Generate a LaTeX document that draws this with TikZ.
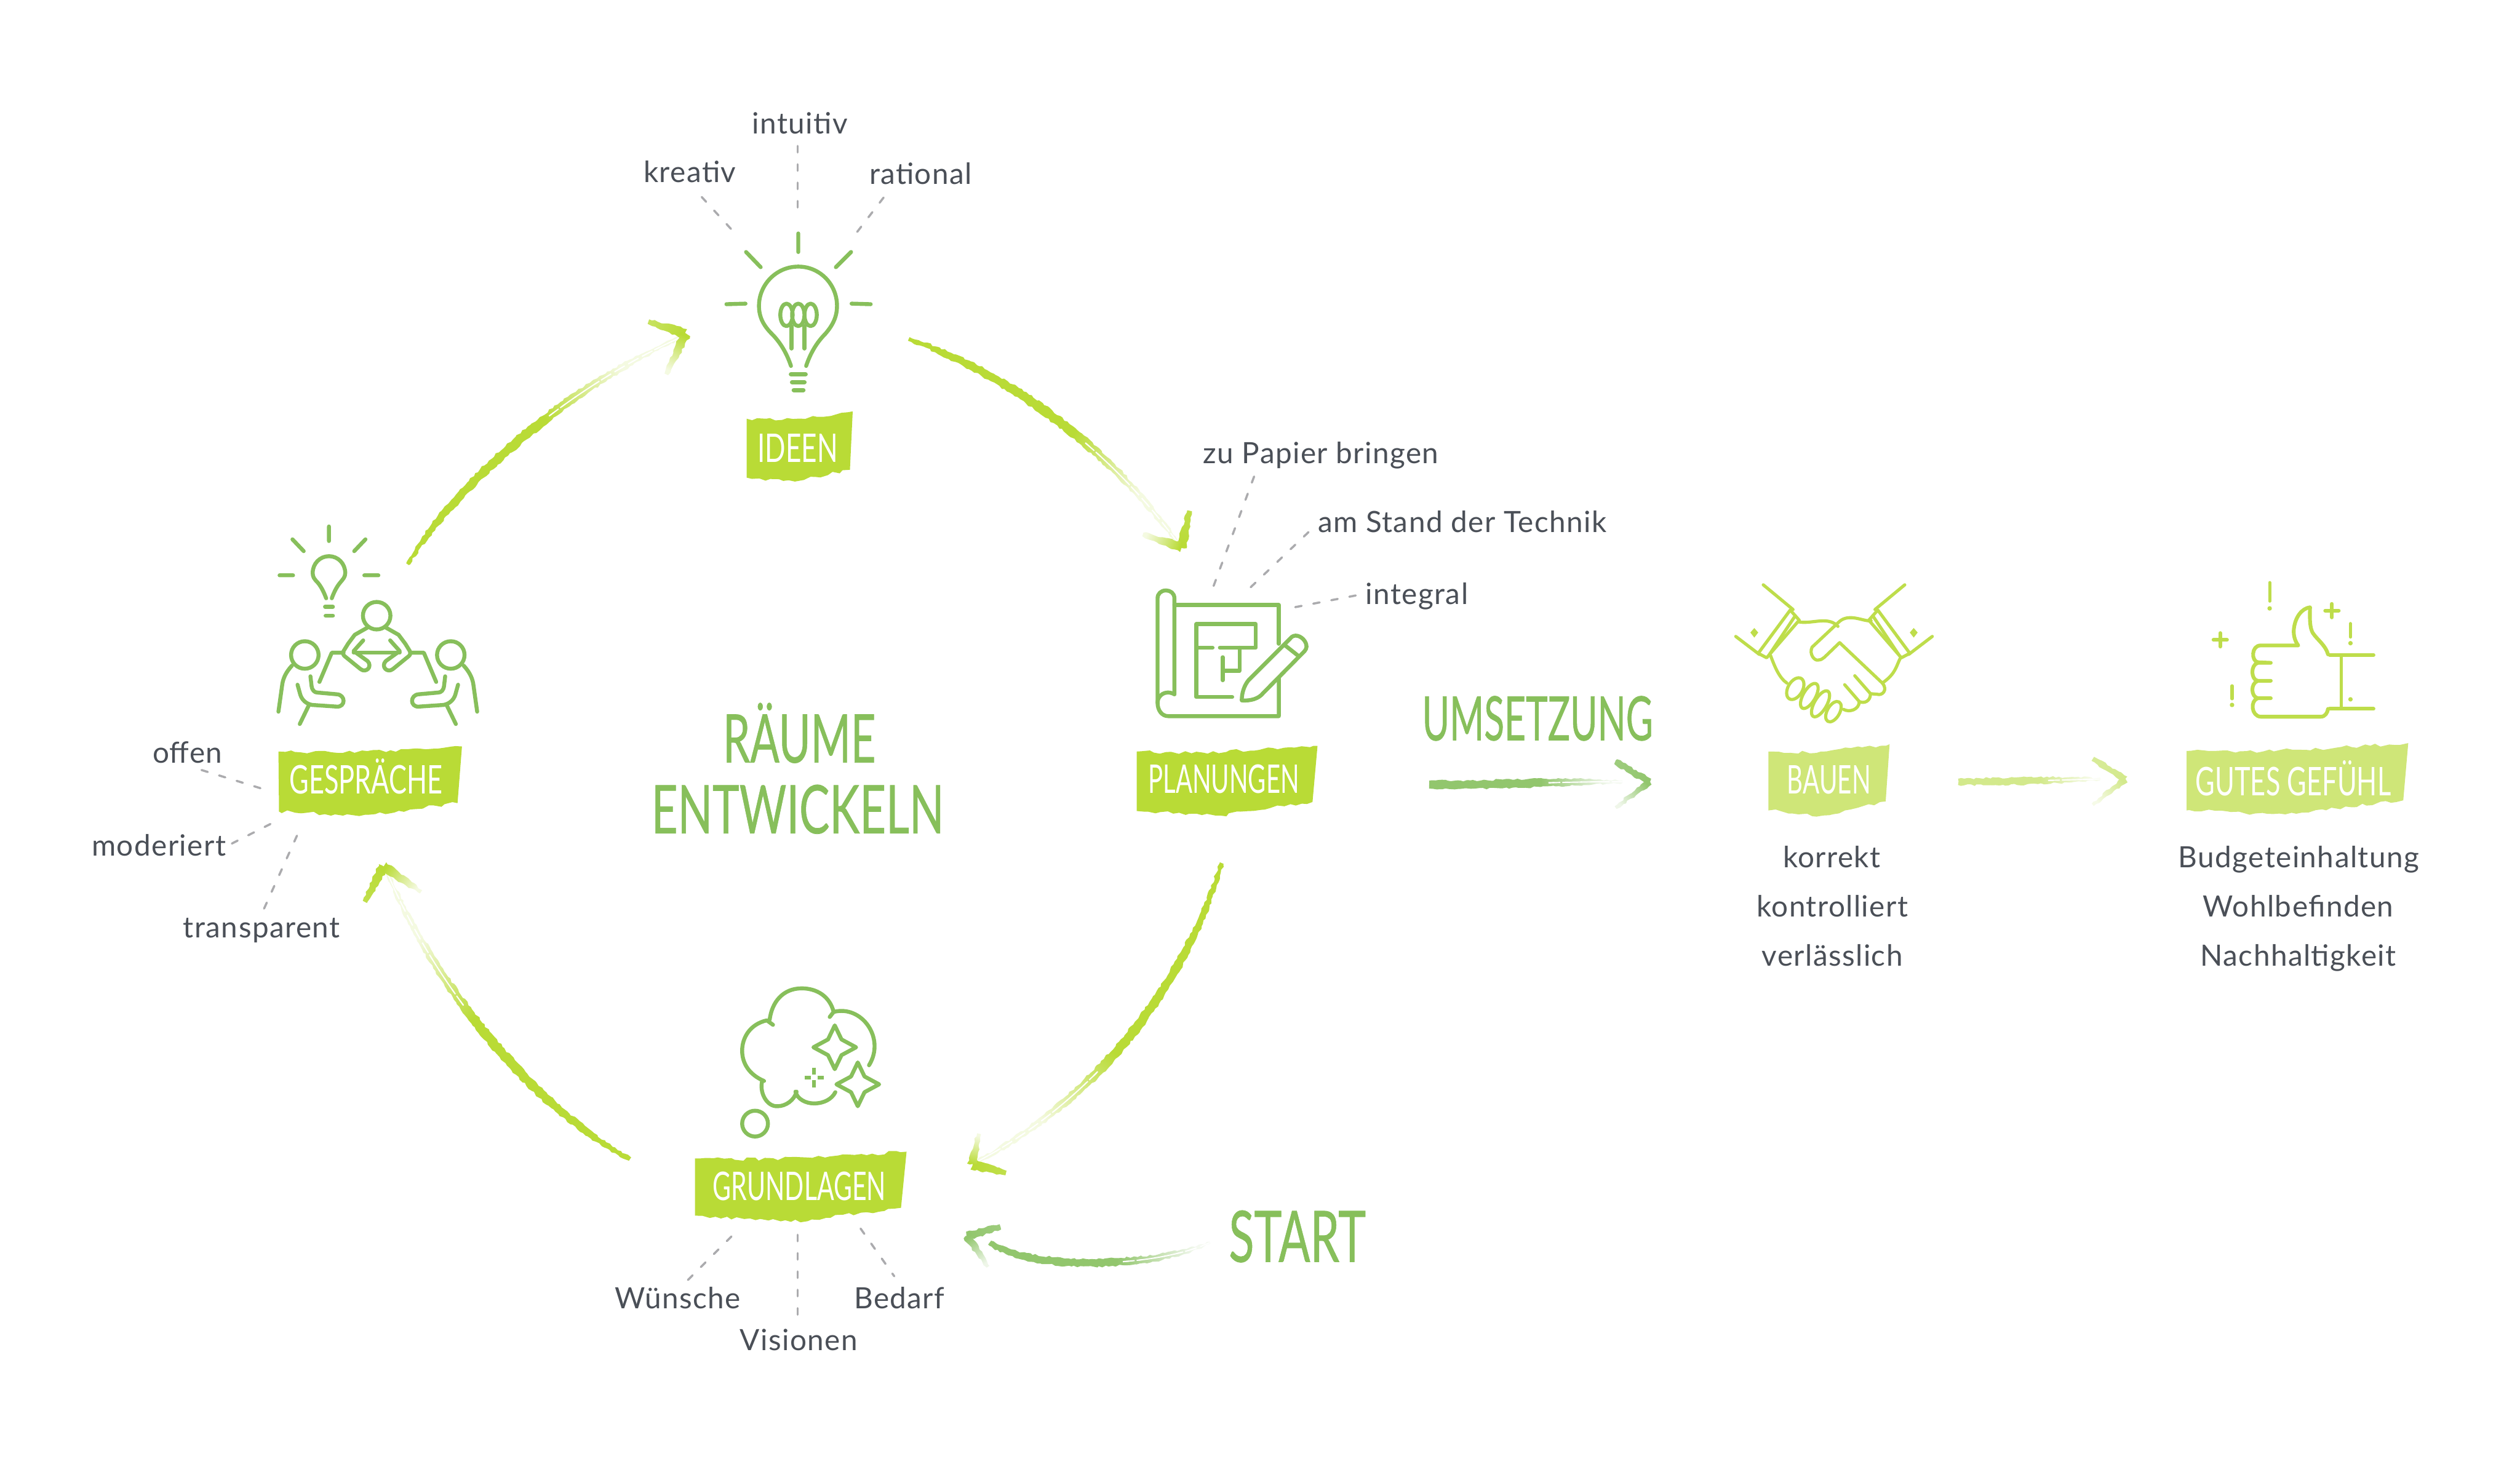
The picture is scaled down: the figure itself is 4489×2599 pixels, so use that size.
\documentclass[tikz,border=0pt]{standalone}
\usepackage{fontspec}
\usepackage{graphicx}
\usetikzlibrary{calc,decorations.pathmorphing}
\setmainfont{Lato}
\newfontfamily\bodyfont[LetterSpace=3]{Lato}
\newfontfamily\handfont{Lato}
\newfontfamily\handmid[FakeBold=0.7]{Lato}
\newlength{\pxu}\setlength{\pxu}{0.01cm}
\definecolor{ribbonA}{HTML}{B9DB36}
\definecolor{ribbonB}{HTML}{CFE678}
\definecolor{iconA}{HTML}{87BF5B}
\definecolor{iconB}{HTML}{BEDD4B}
\definecolor{chalkA}{HTML}{B9DB36}
\definecolor{chalkB}{HTML}{92C66D}
\definecolor{chalkC}{HTML}{D3E98C}
\definecolor{labelgrey}{HTML}{4A4F57}
\definecolor{leadgrey}{HTML}{ABABAE}
\pgfdeclareverticalshading{fadeA}{100bp}{color(0bp)=(chalkA!15); color(28bp)=(chalkA!15); color(46bp)=(chalkA); color(100bp)=(chalkA)}
\pgfdeclareverticalshading{fadeB}{100bp}{color(0bp)=(chalkB!10); color(28bp)=(chalkB!10); color(46bp)=(chalkB); color(100bp)=(chalkB)}
\pgfdeclareverticalshading{fadeC}{100bp}{color(0bp)=(chalkC!20); color(28bp)=(chalkC!20); color(46bp)=(chalkC); color(100bp)=(chalkC)}
\tikzset{
 lbl/.style={font=\bodyfont\fontsize{14.85pt}{18pt}\selectfont,text=labelgrey,inner sep=0pt,anchor=base,yshift=-.8pt},
 leaderline/.style={draw=leadgrey,line width=1.1pt,line cap=round,dash pattern=on 3.3pt off 6pt},
 icon/.style={draw=iconA,line width=2pt,line cap=round,line join=round},
 iconthin/.style={draw=iconB,line width=1.6pt,line cap=round,line join=round},
 chalkedge/.style={decorate,decoration={random steps,segment length=1.6pt,amplitude=.5pt}},
 ribedge/.style={decoration={random steps,segment length=3pt,amplitude=.9pt}},
 streak/.style={draw=white,line width=.6pt,line cap=butt},
 hand/.style={inner sep=0pt,anchor=center}
}
\newcommand\handtext[3]{{\fontsize{#2pt}{#2pt}\handfont\resizebox{#1\pxu}{\height}{#3}}}
\newcommand\handbold[3]{{\fontsize{#2pt}{#2pt}\handmid\resizebox{#1\pxu}{\height}{#3}}}
\newcommand\leader[3]{\coordinate (#1a) at (#2); \coordinate (#1b) at (#3); \draw[leaderline] (#1a) -- (#1b);}
% shading name, A, c1, c2, B, half widths A, controls, B
\newcommand\chalkcurve[8]{%
 \pgfpointdiff{\pgfpointanchor{#5}{center}}{\pgfpointanchor{#2}{center}}\pgfgetlastxy\chdx\chdy
 \pgfmathsetmacro\chang{atan2(\chdy,\chdx)-90}%
 \shade[chalkedge,shading=#1,shading angle=\chang]
  ($(#2)!#6!90:(#3)$) .. controls ($(#3)!#7!90:(#4)$) and ($(#4)!#7!90:(#5)$) .. ($(#5)!#8!-90:(#4)$)
  -- ($(#5)!#8!90:(#4)$) .. controls ($(#4)!#7!-90:(#5)$) and ($(#3)!#7!-90:(#4)$) .. ($(#2)!#6!-90:(#3)$) -- cycle;
 \coordinate (chp) at ($(#2)!.62!(#3)$); \coordinate (chq) at ($(#3)!.62!(#4)$); \coordinate (chr) at ($(#4)!.62!(#5)$);
 \coordinate (chs) at ($(chp)!.62!(chq)$); \coordinate (cht) at ($(chq)!.62!(chr)$); \coordinate (chu) at ($(chs)!.62!(cht)$);
 \draw[streak,dash pattern=on 6pt off 2pt,shift={(1.5,-1.5)}] (chu) .. controls (cht) and (chr) .. (#5);
 \draw[streak,dash pattern=on 3pt off 4pt,shift={(-2,2)}] (chu) .. controls (cht) and (chr) .. (#5);
}
\newcommand\chalkarm[6]{%
 \pgfpointdiff{\pgfpointanchor{#4}{center}}{\pgfpointanchor{#3}{center}}\pgfgetlastxy\chdx\chdy
 \pgfmathsetmacro\chang{atan2(\chdy,\chdx)-90}%
 \shade[chalkedge,top color=#1,bottom color=#2,shading angle=\chang]
  ($(#3)!#5!90:(#4)$) -- ($(#4)!#6!-90:(#3)$) -- ($(#4)!#6!90:(#3)$) -- ($(#3)!#5!-90:(#4)$) -- cycle;}
\newcommand\ribbonshape[6]{%
 \fill[#1] decorate[ribedge]{(#2) .. controls ($(#2)!.4!(#3)+(0,9)$) and ($(#2)!.7!(#3)+(0,3)$) .. (#3)} -- (#4)
   decorate[ribedge]{-- (#5) -- (#6)} -- cycle;}
\begin{document}
\begin{tikzpicture}[x=0.01cm,y=-0.01cm]
\pgfmathsetseed{27}
\useasboundingbox (0,0) rectangle (4489,2599);
\fill[white] (0,0) rectangle (4489,2599);

% ---------- ribbons ----------
\ribbonshape{ribbonA}{1330,746}{1519,733}{1514,837}{1416,858}{1330,851}
\ribbonshape{ribbonA}{496,1339}{823,1330}{815,1431}{640,1454}{497,1446}
\ribbonshape{ribbonA}{2025,1339}{2347,1329}{2338,1429}{2173,1453}{2025,1445}
\ribbonshape{ribbonA}{1238,2064}{1615,2052}{1605,2152}{1409,2177}{1238,2166}
\ribbonshape{ribbonB}{3150,1339}{3366,1326}{3359,1428}{3248,1453}{3150,1444}
\ribbonshape{ribbonB}{3895,1338}{4290,1324}{4281,1426}{4071,1451}{3895,1444}
\node[hand,text=white] (ideen) at (1421,798) {\handtext{143}{20}{IDEEN}};
\node[hand,text=white] (gespraeche) at (652,1383) {\handtext{273}{20}{GESPRÄCHE}};
\node[hand,text=white] (planungen) at (2180,1388) {\handtext{269}{20}{PLANUNGEN}};
\node[hand,text=white] (grundlagen) at (1424,2114) {\handtext{308}{20}{GRUNDLAGEN}};
\node[hand,text=white] (bauen) at (3258,1389) {\handtext{149}{20}{BAUEN}};
\node[hand,text=white] (gefuehl) at (4085,1387) {\handtext{348}{20}{GUTES GEFÜHL}};

% ---------- big headings ----------
\node[hand,text=iconA] (raeume) at (1424,1306) {\handbold{272}{34}{RÄUME}};
\node[hand,text=iconA] (entwickeln) at (1421,1442) {\handbold{521}{34}{ENTWICKELN}};
\node[hand,text=iconA] (umsetzung) at (2739,1280) {\handbold{411}{31}{UMSETZUNG}};
\node[hand,text=iconA] (start) at (2311,2203) {\handbold{244}{36}{START}};

% ---------- labels ----------
\node[lbl] (kreativ) at (1229,322) {kreativ};
\node[lbl] (intuitiv) at (1425,236) {intuitiv};
\node[lbl] (rational) at (1640,325) {rational};
\node[lbl] (papier) at (2353,823) {zu Papier bringen};
\node[lbl] (stand) at (2605,946) {am Stand der Technik};
\node[lbl] (integral) at (2524,1074) {integral};
\node[lbl] (offen) at (334,1357) {offen};
\node[lbl] (moderiert) at (283,1522) {moderiert};
\node[lbl] (transparent) at (466,1668) {transparent};
\node[lbl] (wuensche) at (1207,2329) {Wünsche};
\node[lbl] (bedarf) at (1602,2329) {Bedarf};
\node[lbl] (visionen) at (1423,2403) {Visionen};
\node[lbl] (korrekt) at (3263,1543) {korrekt};
\node[lbl] (kontrolliert) at (3264,1631) {kontrolliert};
\node[lbl] (verlaesslich) at (3264,1718) {verlässlich};
\node[lbl] (budget) at (4095,1543) {Budgeteinhaltung};
\node[lbl] (wohl) at (4094,1631) {Wohlbefinden};
\node[lbl] (nachhalt) at (4094,1718) {Nachhaltigkeit};

% ---------- dashed leaders ----------
\leader{l1}{1421,260}{1421,375}
\leader{l2}{1250,351}{1305,411}
\leader{l3}{1574,352}{1524,417}
\leader{l4}{359,1372}{466,1405}
\leader{l5}{413,1503}{484,1467}
\leader{l6}{529,1489}{469,1622}
\leader{l7}{2234,849}{2160,1049}
\leader{l8}{2331,948}{2224,1050}
\leader{l9}{2415,1061}{2306,1082}
\leader{l10}{1303,2203}{1222,2284}
\leader{l11}{1421,2200}{1421,2350}
\leader{l12}{1533,2189}{1593,2274}

% ---------- chalk arrows of the ring ----------
\coordinate (gi0) at (726,1005); \coordinate (gi1) at (800,880); \coordinate (gi2) at (990,700); \coordinate (gi3) at (1215,600);
\coordinate (gih) at (1221,595); \coordinate (gia) at (1155,573); \coordinate (gib) at (1187,667);
\chalkcurve{fadeA}{gi0}{gi1}{gi2}{gi3}{.8pt}{3pt}{.8pt}
\chalkarm{chalkA}{chalkA!80}{gih}{gia}{2.6pt}{1.2pt}
\chalkarm{chalkA}{chalkA!15}{gih}{gib}{2.6pt}{1pt}

\coordinate (ip0) at (1619,604); \coordinate (ip1) at (1790,665); \coordinate (ip2) at (1970,790); \coordinate (ip3) at (2100,970);
\coordinate (iph) at (2105,975); \coordinate (ipa) at (2119,910); \coordinate (ipb) at (2036,952);
\chalkcurve{fadeA}{ip0}{ip1}{ip2}{ip3}{1pt}{3pt}{.8pt}
\chalkarm{chalkA}{chalkA!90}{iph}{ipa}{2.6pt}{1.2pt}
\chalkarm{chalkA}{chalkA!15}{iph}{ipb}{2.6pt}{1pt}

\coordinate (pg0) at (2176,1538); \coordinate (pg1) at (2110,1760); \coordinate (pg2) at (1950,1960); \coordinate (pg3) at (1740,2070);
\coordinate (pgh) at (1731,2075); \coordinate (pga) at (1792,2090); \coordinate (pgb) at (1744,2020);
\chalkcurve{fadeA}{pg0}{pg1}{pg2}{pg3}{1pt}{3pt}{.8pt}
\chalkarm{chalkA}{chalkA!90}{pgh}{pga}{2.6pt}{1.2pt}
\chalkarm{chalkA}{chalkA!15}{pgh}{pgb}{2.4pt}{1pt}

\coordinate (gr0) at (1122,2065); \coordinate (gr1) at (960,1980); \coordinate (gr2) at (780,1770); \coordinate (gr3) at (690,1555);
\coordinate (grh) at (683,1544); \coordinate (gra) at (650,1607); \coordinate (grb) at (750,1589);
\chalkcurve{fadeA}{gr0}{gr1}{gr2}{gr3}{1pt}{3pt}{.8pt}
\chalkarm{chalkA}{chalkA!90}{grh}{gra}{2.6pt}{1.2pt}
\chalkarm{chalkA}{chalkA!15}{grh}{grb}{2.6pt}{1pt}

% ---------- other chalk arrows ----------
\coordinate (st0) at (1763,2214); \coordinate (st1) at (1830,2262); \coordinate (st2) at (2050,2262); \coordinate (st3) at (2155,2214);
\coordinate (sth) at (1723,2202); \coordinate (sta) at (1782,2186); \coordinate (stb) at (1760,2257);
\chalkcurve{fadeB}{st0}{st1}{st2}{st3}{1.2pt}{2.6pt}{.5pt}
\chalkarm{chalkB}{chalkB!90}{sth}{sta}{2.2pt}{1.4pt}
\chalkarm{chalkB}{chalkB!15}{sth}{stb}{2.2pt}{.8pt}

\coordinate (um0) at (2546,1398); \coordinate (um1) at (2650,1400); \coordinate (um2) at (2780,1392); \coordinate (um3) at (2890,1393);
\coordinate (umh) at (2938,1393); \coordinate (uma) at (2878,1357); \coordinate (umb) at (2878,1439);
\chalkcurve{fadeB}{um0}{um1}{um2}{um3}{2pt}{2.4pt}{.6pt}
\chalkarm{chalkB}{chalkB!90}{umh}{uma}{1.8pt}{1.4pt}
\chalkarm{chalkB}{chalkB!15}{umh}{umb}{1.8pt}{.8pt}

\coordinate (ba0) at (3488,1393); \coordinate (ba1) at (3580,1393); \coordinate (ba2) at (3660,1390); \coordinate (ba3) at (3741,1388);
\coordinate (bah) at (3786,1389); \coordinate (baa) at (3728,1352); \coordinate (bab) at (3728,1434);
\chalkcurve{fadeC}{ba0}{ba1}{ba2}{ba3}{1.6pt}{2pt}{.6pt}
\chalkarm{chalkC}{chalkC!90}{bah}{baa}{1.8pt}{1.2pt}
\chalkarm{chalkC}{chalkC!20}{bah}{bab}{1.8pt}{.8pt}

% ---------- bulb icon ----------
\draw[icon] (1422,416)--(1422,449) (1329,449)--(1355,476) (1516,449)--(1489,476) (1294,542)--(1328,541) (1517,541)--(1551,542);
\draw[icon] (1409,652) .. controls (1400,625) and (1387,607) .. (1375,595) .. controls (1360,580) and (1352,565) .. (1352,545)
 .. controls (1352,507) and (1383,475) .. (1422,475) .. controls (1461,475) and (1491,507) .. (1491,545)
 .. controls (1491,565) and (1483,580) .. (1470,595) .. controls (1458,607) and (1445,625) .. (1436,652);
\draw[icon] (1401,561) ellipse [x radius=11,y radius=20] (1422,561) ellipse [x radius=11,y radius=20] (1444,561) ellipse [x radius=11,y radius=20];
\draw[icon] (1410,581)--(1410,621) (1433,581)--(1433,621);
\draw[icon,line width=2.2pt] (1409,667)--(1435,667) (1411,681)--(1433,681) (1414,695)--(1431,695);

% ---------- meeting icon ----------
\draw[icon] (586,938)--(586,964) (521,961)--(541,982) (651,961)--(631,982) (498,1025)--(522,1025) (649,1025)--(674,1025);
\draw[icon] (581,1066) .. controls (577,1055) and (572,1045) .. (566,1038) .. controls (560,1032) and (557,1028) .. (557,1021)
 .. controls (557,1004) and (570,991) .. (586,991) .. controls (602,991) and (615,1004) .. (615,1021)
 .. controls (615,1028) and (611,1032) .. (606,1038) .. controls (600,1045) and (595,1055) .. (591,1066);
\draw[icon] (579,1081)--(593,1081) (580,1097)--(593,1097);
\draw[icon] (671,1097) circle [radius=24.5];
\draw[icon] (630,1163)--(712,1163);
\foreach \mx/\ms in {0/1,1342/-1}{
\begin{scope}[shift={(\mx,0)},xscale=\ms]
\draw[icon] (655,1118)--(632,1131)--(620,1147)--(612,1160) .. controls (610,1165) and (612,1168) .. (615,1170) -- (642,1192)
 .. controls (652,1200) and (664,1188) .. (655,1178) -- (630,1160) -- (647,1141);
\end{scope}}
\foreach \mx/\ms in {0/1,1346/-1}{
\begin{scope}[shift={(\mx,0)},xscale=\ms]
\draw[icon] (543,1167) circle [radius=24.5];
\draw[icon] (520,1186) .. controls (510,1197) and (505,1207) .. (503,1218) -- (496,1268);
\draw[icon] (553,1205) -- (555,1222) .. controls (556,1230) and (560,1234) .. (566,1234) -- (600,1237)
 .. controls (616,1238) and (616,1260) .. (600,1259) -- (556,1256) .. controls (545,1254) and (538,1247) .. (535,1238) -- (530,1220);
\draw[icon] (550,1257)--(534,1290);
\draw[icon] (612,1163)--(591,1163)--(569,1215);
\end{scope}}

% ---------- plan icon ----------
\draw[icon] (2092,1237) -- (2092,1066) .. controls (2092,1057) and (2085,1052) .. (2077,1052) .. controls (2068,1052) and (2062,1058) .. (2062,1066)
 -- (2062,1252) .. controls (2062,1266) and (2070,1276) .. (2081,1276) -- (2278,1276) -- (2278,1208);
\draw[icon] (2062,1252) .. controls (2062,1240) and (2075,1228) .. (2092,1237);
\draw[icon] (2278,1147) -- (2278,1078) -- (2092,1078);
\draw[icon] (2195,1242) -- (2131,1242) -- (2131,1112) -- (2237,1112) -- (2237,1154) -- (2173,1154);
\draw[icon] (2131,1154)--(2160,1154);
\draw[icon] (2208,1154) -- (2208,1195) -- (2178,1195);
\draw[icon] (2178,1171)--(2178,1212);
\draw[icon] (2212,1248) .. controls (2212,1235) and (2216,1222) .. (2224,1212) -- (2298,1138) .. controls (2305,1128) and (2318,1133) .. (2324,1142)
 .. controls (2329,1150) and (2328,1155) .. (2324,1160) -- (2250,1235) .. controls (2242,1245) and (2228,1249) .. (2212,1248) -- cycle;
\draw[icon] (2288,1149)--(2312,1168);

% ---------- cloud icon ----------
\draw[icon] (1371,1817) .. controls (1375,1785) and (1395,1761) .. (1428,1761) .. controls (1455,1761) and (1478,1775) .. (1485,1803) -- (1478,1812);
\draw[icon] (1485,1803) .. controls (1535,1790) and (1578,1850) .. (1548,1898);
\draw[icon] (1377,1826) -- (1366,1818) .. controls (1335,1825) and (1322,1850) .. (1322,1872) .. controls (1322,1895) and (1335,1915) .. (1361,1926);
\draw[icon] (1358,1925) .. controls (1352,1945) and (1365,1972) .. (1385,1971) .. controls (1400,1971) and (1415,1960) .. (1419,1945);
\draw[icon] (1417,1945) .. controls (1420,1958) and (1435,1966) .. (1450,1966) .. controls (1468,1966) and (1482,1958) .. (1488,1946);
\draw[icon] (1345,2002) circle [radius=23];
\foreach \cx/\cy in {1487/1866,1528/1932}{
\draw[icon,shift={(\cx,\cy)}] (0,-39)--(12,-14)--(38,0)--(12,14)--(0,39)--(-12,14)--(-38,0)--(-12,-14)--cycle;}
\draw[icon,line cap=butt] (1450,1902)--(1450,1915) (1450,1925)--(1450,1938) (1433,1920)--(1444,1920) (1456,1920)--(1468,1920);

% ---------- handshake icon ----------
\foreach \mx/\ms in {0/1,6534/-1}{
\begin{scope}[shift={(\mx,0)},xscale=\ms]
\draw[iconthin] (3141,1042)--(3194,1086) (3092,1134)--(3134,1166);
\draw[iconthin] (3189,1087)--(3132,1164)--(3147,1172)--(3205,1105)--cycle;
\draw[iconthin] (3198,1097)--(3152,1166);
\fill[iconB] (3125,1119)--(3132,1127)--(3125,1136)--(3118,1127)--cycle;
\end{scope}}
\draw[iconthin] (3204,1108) .. controls (3225,1112) and (3250,1100) .. (3268,1111) -- (3274,1116);
\draw[iconthin] (3333,1106) .. controls (3320,1108) and (3295,1092) .. (3277,1107) -- (3228,1153) .. controls (3222,1165) and (3232,1178) .. (3239,1176)
 .. controls (3245,1176) and (3248,1172) .. (3250,1171) -- (3277,1145) -- (3353,1217);
\draw[iconthin] (3154,1168) .. controls (3162,1190) and (3170,1208) .. (3183,1217);
\draw[iconthin] (3386,1171) .. controls (3378,1185) and (3378,1200) .. (3353,1217) .. controls (3364,1230) and (3352,1240) .. (3344,1237) -- (3332,1236) -- (3304,1204);
\draw[iconthin] (3332,1236) .. controls (3332,1250) and (3320,1254) .. (3312,1250) -- (3286,1220);
\draw[iconthin] (3312,1250) .. controls (3312,1264) and (3295,1270) .. (3284,1264);
\draw[iconthin] (3198,1227) ellipse [x radius=21,y radius=13,rotate=60];
\draw[iconthin] (3223,1240) ellipse [x radius=25,y radius=11,rotate=60];
\draw[iconthin] (3243,1254) ellipse [x radius=26,y radius=11,rotate=60];
\draw[iconthin] (3266,1268) ellipse [x radius=20,y radius=11,rotate=60];

% ---------- thumb icon ----------
\draw[iconthin,line width=1.9pt] (4150,1167)--(4228,1167) (4150,1263)--(4228,1263);
\draw[iconthin] (4171,1171)--(4171,1260);
\draw[iconthin,line width=1.9pt] (4147,1166) .. controls (4143,1150) and (4128,1140) .. (4120,1128) .. controls (4115,1120) and (4114,1105) .. (4115,1082)
 .. controls (4100,1084) and (4088,1100) .. (4086,1122) .. controls (4085,1135) and (4090,1145) .. (4094,1150) -- (4027,1150)
 .. controls (4010,1150) and (4010,1178) .. (4022,1180) -- (4045,1181) -- (4022,1181) .. controls (4008,1185) and (4010,1212) .. (4022,1213) -- (4045,1213)
 -- (4022,1213) .. controls (4008,1218) and (4010,1242) .. (4022,1244) -- (4045,1244) -- (4022,1244) .. controls (4008,1248) and (4010,1276) .. (4027,1277)
 -- (4134,1277) .. controls (4142,1277) and (4146,1270) .. (4147,1263);
\draw[iconthin] (4043,1038)--(4043,1071) (4187,1111)--(4187,1135) (3976,1222)--(3976,1245);
\fill[iconB] (4043,1084) circle [radius=4] (4187,1146) circle [radius=4] (3976,1256) circle [radius=4] (4187,1246) circle [radius=4];
\draw[iconthin,line width=1.9pt] (4154,1076)--(4154,1100) (4142,1088)--(4166,1088) (3955,1128)--(3955,1152) (3943,1140)--(3967,1140);
\end{tikzpicture}
\end{document}
